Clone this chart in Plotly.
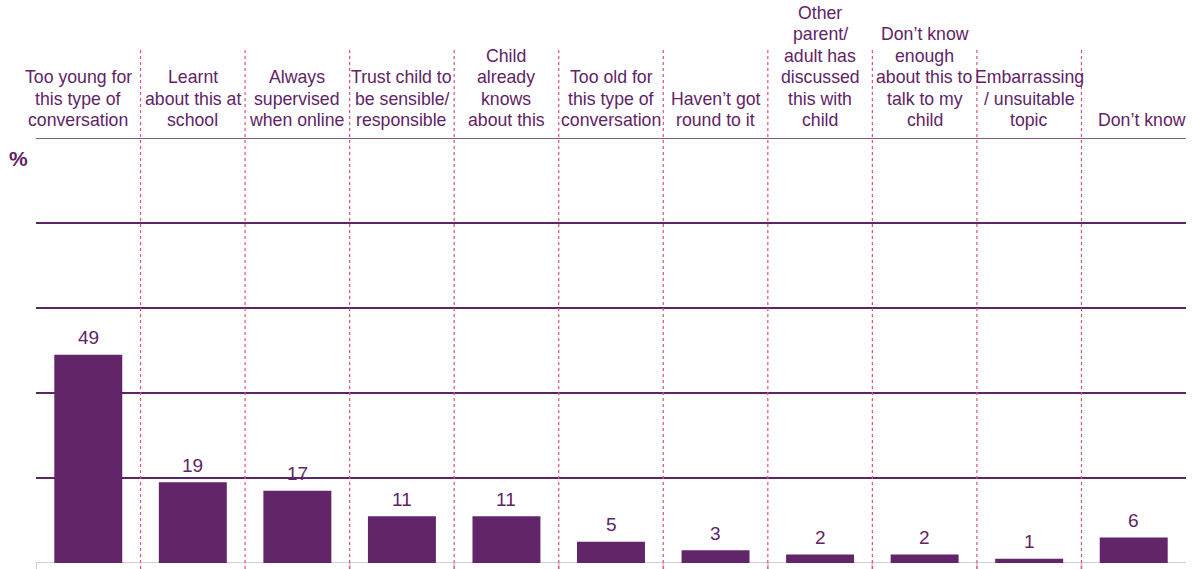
import plotly.graph_objects as go

categories = [
    "Too young for<br>this type of<br>conversation",
    "Learnt<br>about this at<br>school",
    "Always<br>supervised<br>when online",
    "Trust child to<br>be sensible/<br>responsible",
    "Child<br>already<br>knows<br>about this",
    "Too old for<br>this type of<br>conversation",
    "Haven\u2019t got<br>round to it",
    "Other<br>parent/<br>adult has<br>discussed<br>this with<br>child",
    "Don\u2019t know<br>enough<br>about this to<br>talk to my<br>child",
    "Embarrassing<br>/ unsuitable<br>topic",
    "Don\u2019t know",
]
values = [49, 19, 17, 11, 11, 5, 3, 2, 2, 1, 6]
grid_values = [20, 40, 60, 80, 100]

PURPLE = "#62256a"
TEXT = "#5f2466"
GRID = "#5c2563"
PINK = "#e0507a"
FONT = "Liberation Sans, Arial, sans-serif"

W, H = 1192, 569
plot_top, plot_bot, plot_left, plot_right = 138, 563, 36, 1186
ml = plot_left
mt = plot_top
mr = W - plot_right
mb = H - plot_bot
plot_h = plot_bot - plot_top

idx = list(range(len(categories)))

fig = go.Figure(go.Bar(
    x=idx, y=values, width=0.65,
    marker=dict(color=PURPLE, line=dict(width=0)),
    hoverinfo="skip",
))

annotations = []
LINE = 21.5
n_cat = len(categories)
for i, c in enumerate(categories):
    lines = c.split("<br>")
    n = len(lines)
    xs = -10 if i == 0 else (8 if i == n_cat - 1 else 0)
    for j, ln in enumerate(lines):
        k = n - 1 - j
        annotations.append(dict(
            x=i, y=1, xref="x", yref="paper", text=ln, showarrow=False,
            xanchor="center", yanchor="middle", yshift=18 + k * LINE, xshift=xs,
            font=dict(size=17.7, color=TEXT, family=FONT),
        ))
for i, v in enumerate(values):
    annotations.append(dict(
        x=i, y=v, xref="x", yref="y", text=str(v), showarrow=False,
        xanchor="center", yanchor="middle", yshift=17,
        font=dict(size=19, color=TEXT, family=FONT),
    ))
annotations.append(dict(
    x=-18 / (plot_right - plot_left), y=1 - 20 / plot_h, xref="paper", yref="paper",
    text="<b>%</b>", showarrow=False, xanchor="center", yanchor="middle",
    font=dict(size=21, color=TEXT, family=FONT),
))

shapes = []
top_sep = 1 + (plot_top - 50) / plot_h
bot = -(H - plot_bot) / plot_h
for i in range(n_cat - 1):
    shapes.append(dict(
        type="line", xref="x", yref="paper", x0=i + 0.5, x1=i + 0.5,
        y0=bot, y1=top_sep, line=dict(color=PINK, width=1.2, dash="dot"),
        layer="above",
    ))
# top gridline at 100
shapes.append(dict(type="line", xref="paper", yref="y", x0=0, x1=1, y0=100, y1=100,
                   line=dict(color=GRID, width=1.5), layer="below"))
# gray baseline
shapes.append(dict(type="line", xref="paper", yref="y", x0=0, x1=1, y0=0, y1=0,
                   line=dict(color="#cfcfcf", width=2), layer="below"))
for i in [-1, 2, 3, 4, 5, 6, 7, 8, 9]:
    shapes.append(dict(type="line", xref="x", yref="paper", x0=i + 0.5, x1=i + 0.5,
                       y0=bot, y1=0, line=dict(color="#cfcfcf", width=2), layer="below"))

fig.update_layout(
    width=W, height=H,
    margin=dict(l=ml, r=mr, t=mt, b=mb),
    plot_bgcolor="white", paper_bgcolor="white",
    showlegend=False,
    xaxis=dict(range=[-0.5, n_cat - 0.5], showticklabels=False,
               showgrid=False, zeroline=False, showline=False, fixedrange=True),
    yaxis=dict(range=[0, 100], tickvals=grid_values, showticklabels=False,
               showgrid=True, gridcolor=GRID, gridwidth=1.5,
               zeroline=False, showline=False, fixedrange=True),
    annotations=annotations,
    shapes=shapes,
)

fig.write_html(
    "out.html",
    config={"displayModeBar": False},
    post_script="document.body.style.margin='0px'; document.body.style.overflow='hidden';",
)
